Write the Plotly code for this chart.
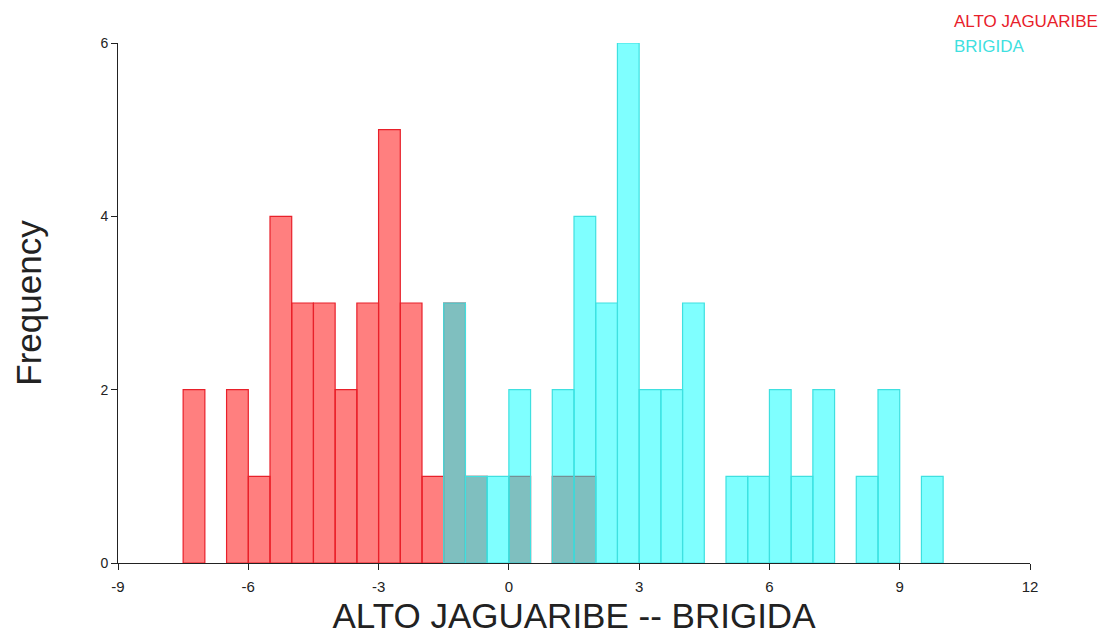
import plotly.graph_objects as go

# Bin left edges (width 0.5) and counts
red_bins = [-7.5, -7.0, -6.5, -6.0, -5.5, -5.0, -4.5, -4.0, -3.5, -3.0, -2.5, -2.0,
            -1.5, -1.0, -0.5, 0.0, 0.5, 1.0, 1.5]
red_counts = [2, 0, 2, 1, 4, 3, 3, 2, 3, 5, 3, 1, 3, 1, 0, 1, 0, 1, 1]

cyan_bins = [-1.5, -1.0, -0.5, 0.0, 0.5, 1.0, 1.5, 2.0, 2.5, 3.0, 3.5, 4.0, 4.5,
             5.0, 5.5, 6.0, 6.5, 7.0, 7.5, 8.0, 8.5, 9.0, 9.5]
cyan_counts = [3, 1, 1, 2, 0, 2, 4, 3, 6, 2, 2, 3, 0, 1, 1, 2, 1, 2, 0, 1, 2, 0, 1]

bin_width = 0.5
x_ticks = [-9, -6, -3, 0, 3, 6, 9, 12]
x_tick_labels = ["-9", "-6", "-3", "0", "3", "6", "9", "12"]
y_ticks = [0, 2, 4, 6]
y_tick_labels = ["0", "2", "4", "6"]


def nz(vals):
    return [v if v else None for v in vals]


fig = go.Figure()
fig.add_trace(go.Bar(
    x=[b + bin_width / 2 for b in red_bins], y=nz(red_counts), width=bin_width,
    marker=dict(color="rgba(255,0,0,0.5)", line=dict(color="#e8202a", width=1.2)),
    name="ALTO JAGUARIBE", showlegend=False))
fig.add_trace(go.Bar(
    x=[b + bin_width / 2 for b in cyan_bins], y=nz(cyan_counts), width=bin_width,
    marker=dict(color="rgba(0,255,255,0.5)", line=dict(color="#3fe0e0", width=1.2)),
    name="BRIGIDA", showlegend=False))

font = "Liberation Sans, Arial, sans-serif"
fig.update_layout(
    barmode="overlay",
    width=1100, height=627,
    margin=dict(l=110, r=78, t=35, b=72),
    paper_bgcolor="white", plot_bgcolor="white",
    font=dict(family=font, color="#222"),
    xaxis=dict(range=[-9, 12], tickvals=x_ticks, ticktext=x_tick_labels,
               ticks="outside", ticklen=6, ticklabelstandoff=4,
               tickcolor="#222", showline=True, linecolor="#222", linewidth=1,
               showgrid=False, zeroline=False, tickfont=dict(size=15),
               automargin=False,
               title=dict(text="ALTO JAGUARIBE -- BRIGIDA", font=dict(size=35), standoff=10)),
    yaxis=dict(range=[0, 6], tickvals=y_ticks, ticktext=y_tick_labels,
               ticks="outside", ticklen=6,
               tickcolor="#222", showline=True, linecolor="#222", linewidth=1,
               showgrid=False, zeroline=False, tickfont=dict(size=14),
               automargin=False,
               title=dict(text="Frequency", font=dict(size=35), standoff=48)),
)
fig.add_annotation(text="ALTO JAGUARIBE", xref="paper", yref="paper",
                   x=(944 - 110) / 912.0, y=1.0 + (35 - 14) / 520.0,
                   xanchor="left", yanchor="middle", showarrow=False,
                   font=dict(size=17, color="#e8202a", family=font))
fig.add_annotation(text="BRIGIDA", xref="paper", yref="paper",
                   x=(944 - 110) / 912.0, y=1.0 + (35 - 39) / 520.0,
                   xanchor="left", yanchor="middle", showarrow=False,
                   font=dict(size=17, color="#3fe0e0", family=font))

fig.write_html("out.html")
